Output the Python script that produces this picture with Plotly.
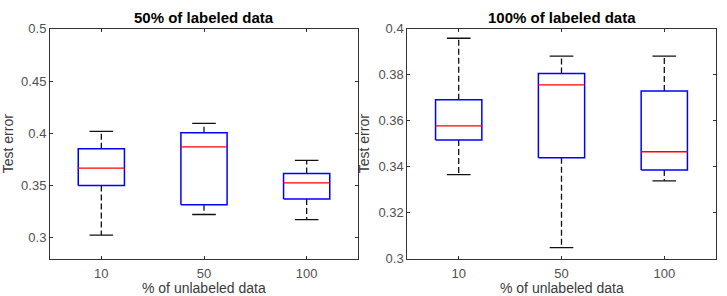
import plotly.graph_objects as go

categories = ["10", "50", "100"]

# 50% of labeled data
left_lower = [0.3025, 0.3222, 0.3173]
left_q1 = [0.3500, 0.3315, 0.3370]
left_median = [0.3667, 0.3870, 0.3525]
left_q3 = [0.3852, 0.4004, 0.3615]
left_upper = [0.4018, 0.4095, 0.3740]

# 100% of labeled data
right_lower = [0.3365, 0.3048, 0.3338]
right_q1 = [0.3516, 0.3439, 0.3385]
right_median = [0.3578, 0.3756, 0.3465]
right_q3 = [0.3691, 0.3806, 0.3729]
right_upper = [0.3959, 0.3881, 0.3881]

titles = ["50% of labeled data", "100% of labeled data"]
x_title = "% of unlabeled data"
y_title = "Test error"

BOX_HALF = 0.225
CAP_HALF = 0.115

fig = go.Figure()


def add_boxes(lower, q1, med, q3, upper, xa, ya):
    bx, by, mx, my, wx, wy, cx, cy = [], [], [], [], [], [], [], []
    for i in range(len(categories)):
        p = i + 1
        bx += [p - BOX_HALF, p + BOX_HALF, p + BOX_HALF, p - BOX_HALF, p - BOX_HALF, None]
        by += [q1[i], q1[i], q3[i], q3[i], q1[i], None]
        mx += [p - BOX_HALF, p + BOX_HALF, None]
        my += [med[i], med[i], None]
        wx += [p, p, None, p, p, None]
        wy += [q3[i], upper[i], None, q1[i], lower[i], None]
        cx += [p - CAP_HALF, p + CAP_HALF, None, p - CAP_HALF, p + CAP_HALF, None]
        cy += [upper[i], upper[i], None, lower[i], lower[i], None]
    common = dict(xaxis=xa, yaxis=ya, mode="lines", showlegend=False, hoverinfo="skip")
    fig.add_trace(go.Scatter(x=wx, y=wy, line=dict(color="#111111", width=1.3, dash="6px,3px"), **common))
    fig.add_trace(go.Scatter(x=cx, y=cy, line=dict(color="#111111", width=1.3), **common))
    fig.add_trace(go.Scatter(x=bx, y=by, line=dict(color="#0000ff", width=1.5), **common))
    fig.add_trace(go.Scatter(x=mx, y=my, line=dict(color="#ff0000", width=1.3), **common))


add_boxes(left_lower, left_q1, left_median, left_q3, left_upper, "x", "y")
add_boxes(right_lower, right_q1, right_median, right_q3, right_upper, "x2", "y2")

font_family = "Liberation Sans, Arial, sans-serif"
tick_font = dict(family=font_family, size=13, color="#505050")
label_font = dict(family=font_family, size=14, color="#3a3a3a")

xcommon = dict(
    range=[0.5, 3.5], tickvals=[1, 2, 3], ticktext=categories,
    showline=True, linecolor="#333333", linewidth=1, mirror="ticks",
    ticks="inside", ticklen=3, tickcolor="#333333", showgrid=False, zeroline=False,
    tickfont=tick_font, ticklabelstandoff=3,
)
ycommon = dict(
    showline=True, linecolor="#333333", linewidth=1, mirror="ticks",
    ticks="inside", ticklen=3, tickcolor="#333333", showgrid=False, zeroline=False,
    tickfont=tick_font,
    title=dict(text=y_title, font=label_font, standoff=5),
)

PLOT_H = 242.0
xtitle_y = -20.0 / PLOT_H

annotations = []
for k, (xd, yd) in enumerate([("x domain", "y domain"), ("x2 domain", "y2 domain")]):
    annotations.append(dict(text="<b>" + titles[k] + "</b>", xref=xd, yref=yd, x=0.5, y=1.0,
                            yshift=1, xanchor="center", yanchor="bottom", showarrow=False,
                            font=dict(family=font_family, size=15, color="black")))
    annotations.append(dict(text=x_title, xref=xd, yref=yd, x=0.5, y=xtitle_y,
                            xanchor="center", yanchor="top", showarrow=False,
                            font=label_font))

fig.update_layout(
    width=727, height=296,
    margin=dict(l=0, r=0, t=0, b=0),
    paper_bgcolor="white", plot_bgcolor="white",
    xaxis=dict(domain=[50 / 727, 358 / 727], anchor="y", **xcommon),
    yaxis=dict(domain=[1 - 265 / 296, 1 - 23 / 296], anchor="x", range=[0.28, 0.5],
               tickvals=[0.3, 0.35, 0.4, 0.45, 0.5], ticktext=["0.3", "0.35", "0.4", "0.45", "0.5"], **ycommon),
    xaxis2=dict(domain=[407.3 / 727, 715.7 / 727], anchor="y2", **xcommon),
    yaxis2=dict(domain=[1 - 265 / 296, 1 - 23 / 296], anchor="x2", range=[0.3, 0.4],
                tickvals=[0.3, 0.32, 0.34, 0.36, 0.38, 0.4],
                ticktext=["0.3", "0.32", "0.34", "0.36", "0.38", "0.4"], **ycommon),
    annotations=annotations,
)

fig.write_html("out.html")
